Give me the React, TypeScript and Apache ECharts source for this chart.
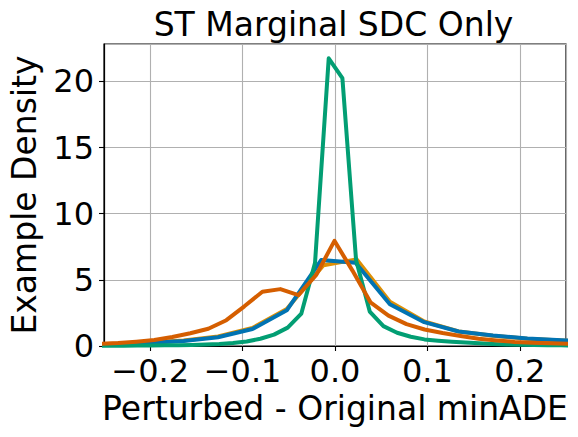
import React, { useEffect, useRef } from "react";
import * as echarts from "echarts";

const TITLE = "ST Marginal SDC Only";
const X_NAME = "Perturbed - Original minADE";
const Y_NAME = "Example Density";

const greenX = [-0.2584, -0.2436, -0.2288, -0.214, -0.1992, -0.1844, -0.1696, -0.1548, -0.14, -0.1252, -0.1104, -0.0956, -0.0808, -0.066, -0.0512, -0.0364, -0.0216, -0.0068, 0.008, 0.0228, 0.0376, 0.0524, 0.0672, 0.082, 0.0968, 0.1116, 0.1264, 0.1412, 0.156, 0.1708, 0.1856, 0.2004, 0.2152, 0.23, 0.2448, 0.2596];
const greenY = [0.01, 0.02, 0.02, 0.03, 0.04, 0.05, 0.06, 0.08, 0.11, 0.15, 0.22, 0.34, 0.55, 0.86, 1.39, 2.45, 6.3, 21.75, 20.25, 6.5, 2.6, 1.5, 1.0, 0.7, 0.5, 0.4, 0.32, 0.26, 0.2, 0.16, 0.12, 0.1, 0.08, 0.06, 0.05, 0.04];

const orangeX = [-0.2754, -0.2382, -0.201, -0.1638, -0.1266, -0.0894, -0.0522, -0.0125, 0.0233, 0.0594, 0.0966, 0.1338, 0.171, 0.2082, 0.2454, 0.2826];
const orangeY = [0.11, 0.17, 0.27, 0.42, 0.72, 1.36, 2.8, 6.1, 6.55, 3.35, 1.85, 1.1, 0.78, 0.55, 0.41, 0.32];

const blueX = [-0.2754, -0.2382, -0.201, -0.1638, -0.1266, -0.0894, -0.0522, -0.015, 0.0222, 0.0594, 0.0966, 0.1338, 0.171, 0.2082, 0.2454, 0.2826];
const blueY = [0.1, 0.16, 0.25, 0.38, 0.66, 1.28, 2.7, 6.5, 6.3, 3.15, 1.8, 1.1, 0.8, 0.57, 0.43, 0.33];

const redX = [-0.2541, -0.2346, -0.2151, -0.1956, -0.1761, -0.1566, -0.1371, -0.1176, -0.0981, -0.0786, -0.0591, -0.0396, -0.0201, -0.0006, 0.0189, 0.0384, 0.0579, 0.0774, 0.0969, 0.1164, 0.1359, 0.1554, 0.1749, 0.1944, 0.2139, 0.2334, 0.2529];
const redY = [0.16, 0.22, 0.32, 0.45, 0.68, 0.96, 1.3, 1.95, 3.0, 4.1, 4.3, 3.85, 5.4, 7.95, 5.7, 3.3, 2.3, 1.65, 1.25, 0.98, 0.76, 0.55, 0.42, 0.31, 0.25, 0.2, 0.17];

const X_MIN = -0.25;
const X_MAX = 0.25;
const Y_MIN = 0;
const Y_MAX = 22.83;
const Y_STEP = 5;

const FONT = "DejaVu Sans";

function pairs(xs: number[], ys: number[]) {
  return xs.map((x, i) => [x, ys[i]]);
}

function lineSeries(name: string, color: string, xs: number[], ys: number[], z: number) {
  return {
    name,
    type: "line",
    data: pairs(xs, ys),
    showSymbol: false,
    symbol: "none",
    z,
    clip: true,
    lineStyle: { color, width: 4, join: "round", cap: "butt" },
  };
}

export default function App() {
  const ref = useRef<HTMLDivElement>(null);
  useEffect(() => {
    if (!ref.current) return;
    const chart = echarts.init(ref.current, null, { renderer: "svg" });
    chart.setOption({
      animation: false,
      backgroundColor: "#ffffff",
      title: {
        text: TITLE,
        left: 333.5,
        top: 8,
        padding: 0,
        textAlign: "center",
        textStyle: { fontFamily: FONT, fontSize: 33, fontWeight: "normal", color: "#000" },
      },
      grid: {
        left: 101,
        right: 12,
        top: 44,
        bottom: 91,
        show: true,
        borderColor: "#000",
        borderWidth: 1.2,
        backgroundColor: "transparent",
      },
      xAxis: {
        type: "value",
        min: X_MIN,
        max: X_MAX,
        splitNumber: 5,
        name: X_NAME,
        nameLocation: "middle",
        nameGap: 44,
        nameTextStyle: { fontFamily: FONT, fontSize: 33, color: "#000" },
        axisLine: { show: true, onZero: false, lineStyle: { color: "#000", width: 1.2 } },
        axisTick: { show: true, length: 5, lineStyle: { color: "#000", width: 1.1 } },
        axisLabel: {
          fontFamily: FONT,
          fontSize: 32,
          color: "#000",
          margin: 9,
          showMinLabel: false,
          showMaxLabel: false,
          formatter: (v: number) => {
            const r = Math.round(v * 10);
            if (Math.abs(v * 10 - r) > 1e-6) return "";
            const s = Math.abs(v).toFixed(1);
            return v < -1e-9 ? "\u2212" + s : s;
          },
        },
        splitLine: { show: true, lineStyle: { color: "#b0b0b0", width: 1.1 } },
      },
      yAxis: {
        type: "value",
        min: Y_MIN,
        max: Y_MAX,
        interval: Y_STEP,
        name: Y_NAME,
        nameLocation: "middle",
        nameRotate: 90,
        nameGap: 63,
        nameTextStyle: { fontFamily: FONT, fontSize: 33, color: "#000" },
        axisLine: { show: true, onZero: false, lineStyle: { color: "#000", width: 1.2 } },
        axisTick: { show: true, length: 5, lineStyle: { color: "#000", width: 1.1 } },
        axisLabel: {
          fontFamily: FONT,
          fontSize: 32,
          color: "#000",
          margin: 10,
          showMaxLabel: false,
          formatter: (v: number) => (Math.abs(v % Y_STEP) < 1e-6 ? String(Math.round(v)) : ""),
        },
        splitLine: { show: true, lineStyle: { color: "#b0b0b0", width: 1.1 } },
      },
      series: [
        lineSeries("orange", "#DE8F05", orangeX, orangeY, 2),
        lineSeries("blue", "#0173B2", blueX, blueY, 3),
        lineSeries("green", "#029E73", greenX, greenY, 4),
        lineSeries("red", "#D55E00", redX, redY, 5),
      ],
    });
    return () => chart.dispose();
  }, []);
  return (
    <div
      ref={ref}
      style={{ position: "fixed", left: 0, top: 0, width: 578, height: 437, background: "#fff" }}
    />
  );
}
